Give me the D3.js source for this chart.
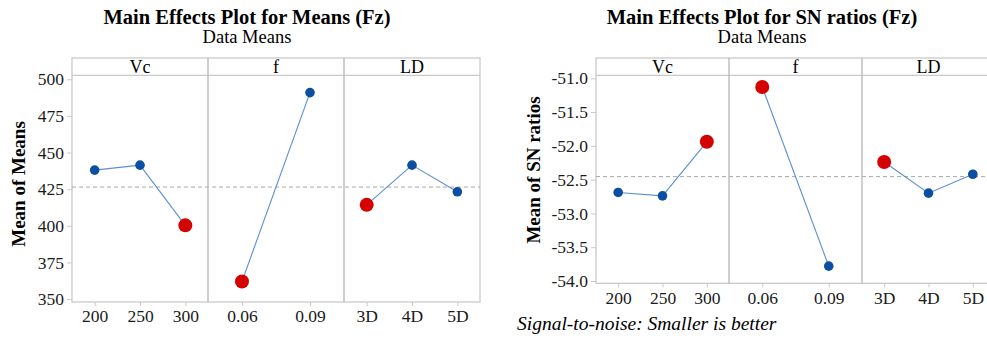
<!DOCTYPE html>
<html>
<head>
<meta charset="utf-8">
<script src="https://cdn.jsdelivr.net/npm/d3@7"></script>
<style>
	body { margin: 0; background: #fff; }
	svg { display: block; font-family: 'Liberation Serif', 'Times New Roman', serif; }
</style>
</head>
<body>
<div class="chart"></div>
<script>
	// 요인과 수준
	const factors = ['Vc', 'f', 'LD'];
	const levels = [['200', '250', '300'], ['0.06', '0.09'], ['3D', '4D', '5D']];
	// 평균 (Fz)
	const meansFz = [[438.0, 441.4, 400.3], [362.0, 490.9], [414.3, 441.4, 423.2]];
	// SN비 (Fz)
	const snFz = [[-52.69, -52.74, -51.94], [-51.13, -53.78], [-52.24, -52.70, -52.42]];
	const meanTicks = [350, 375, 400, 425, 450, 475, 500];
	const snTicks = [-54.0, -53.5, -53.0, -52.5, -52.0, -51.5, -51.0];

	const W = 987, H = 339;
	const lineColor = '#5a8fd2';
	const dotColor = '#0b4ea2';
	const bestColor = '#d50000';
	const frameColor = '#c9c9c9';
	const serif = "'Liberation Serif', 'Times New Roman', serif";

	const svg = d3.select('.chart').append('svg').attr('width', W).attr('height', H);

	function drawPanel(cfg) {
		const g = svg.append('g');
		const panelW = cfg.panelW;
		const x0 = cfg.x0;
		const stripTop = 58, top = 75.3, bottom = cfg.bottom;
		const right = x0 + panelW * factors.length;

		const y = d3.scaleLinear().domain(cfg.domain).range([bottom, top]);
		const grand = d3.mean(cfg.values.map(v => d3.mean(v)));

		// 제목
		g.append('text').attr('x', cfg.titleX).attr('y', 24).attr('text-anchor', 'middle')
			.style('font-size', '20.5px').style('font-weight', 'bold').text(cfg.title);
		g.append('text').attr('x', cfg.titleX).attr('y', 43).attr('text-anchor', 'middle')
			.style('font-size', '18.5px').text('Data Means');

		// 틀
		g.append('rect').attr('x', x0).attr('y', stripTop).attr('width', right - x0).attr('height', bottom - stripTop)
			.attr('fill', 'none').attr('stroke', frameColor).attr('stroke-width', 1.3);
		g.append('line').attr('x1', x0).attr('x2', right).attr('y1', top).attr('y2', top)
			.attr('stroke', frameColor).attr('stroke-width', 1.3);

		// 기준선 (전체 평균)
		g.append('line').attr('x1', x0).attr('x2', right).attr('y1', y(grand)).attr('y2', y(grand))
			.attr('stroke', '#a8a8a8').attr('stroke-dasharray', '4,3');

		// y축
		const yAxis = g.append('g').attr('transform', `translate(${x0},0)`)
			.call(d3.axisLeft(y).tickValues(cfg.ticks).tickFormat(cfg.fmt).tickSize(5).tickPadding(3));
		yAxis.select('.domain').remove();
		yAxis.selectAll('line').attr('stroke', frameColor);
		yAxis.selectAll('text').style('font-size', '17.5px').style('font-family', serif).attr('fill', '#1a1a1a');

		g.append('text').attr('transform', `translate(${cfg.ylabX},${cfg.ylabY}) rotate(-90)`)
			.attr('text-anchor', 'middle').style('font-size', '19px').style('font-weight', 'bold')
			.text(cfg.ylab);

		factors.forEach((f, i) => {
			const px = x0 + panelW * i;
			const x = d3.scalePoint().domain(levels[i]).range([px, px + panelW]).padding(0.5);
			const vals = cfg.values[i];
			const best = vals.indexOf(cfg.best(vals));

			if (i > 0) {
				g.append('line').attr('x1', px).attr('x2', px).attr('y1', stripTop).attr('y2', bottom)
					.attr('stroke', '#b5b5b5').attr('stroke-width', 1.3);
			}
			g.append('text').attr('x', px + panelW / 2).attr('y', 72.5).attr('text-anchor', 'middle')
				.style('font-size', '18px').text(f);

			const xAxis = g.append('g').attr('transform', `translate(0,${bottom})`)
				.call(d3.axisBottom(x).tickSize(4).tickPadding(4));
			xAxis.select('.domain').remove();
			xAxis.selectAll('line').attr('stroke', frameColor);
			xAxis.selectAll('text').style('font-size', '17.5px').style('font-family', serif).attr('fill', '#1a1a1a');

			const pts = levels[i].map((l, j) => ({ l: l, v: vals[j], j: j }));
			g.append('path').datum(pts)
				.attr('d', d3.line().x(d => x(d.l)).y(d => y(d.v)))
				.attr('fill', 'none').attr('stroke', lineColor).attr('stroke-width', 1.1);
			g.selectAll(null).data(pts).enter().append('circle')
				.attr('cx', d => x(d.l)).attr('cy', d => y(d.v))
				.attr('r', d => d.j === best ? 7 : 4.8)
				.attr('fill', d => d.j === best ? bestColor : dotColor);
		});
	}

	drawPanel({
		title: 'Main Effects Plot for Means (Fz)', titleX: 247,
		ylab: 'Mean of Means', ylabX: 25, ylabY: 184,
		x0: 72, panelW: 136, bottom: 302,
		domain: [348, 502.7], ticks: meanTicks, fmt: d => String(d),
		values: meansFz, best: v => d3.min(v)
	});

	drawPanel({
		title: 'Main Effects Plot for SN ratios (Fz)', titleX: 762,
		ylab: 'Mean of SN ratios', ylabX: 540, ylabY: 170,
		x0: 596, panelW: 133, bottom: 283.3,
		domain: [-54.034, -50.956], ticks: snTicks, fmt: d => d.toFixed(1),
		values: snFz, best: v => d3.max(v)
	});

	svg.append('text').attr('x', 517).attr('y', 330).style('font-size', '19.5px').style('font-style', 'italic')
		.text('Signal-to-noise: Smaller is better');
</script>
</body>
</html>
